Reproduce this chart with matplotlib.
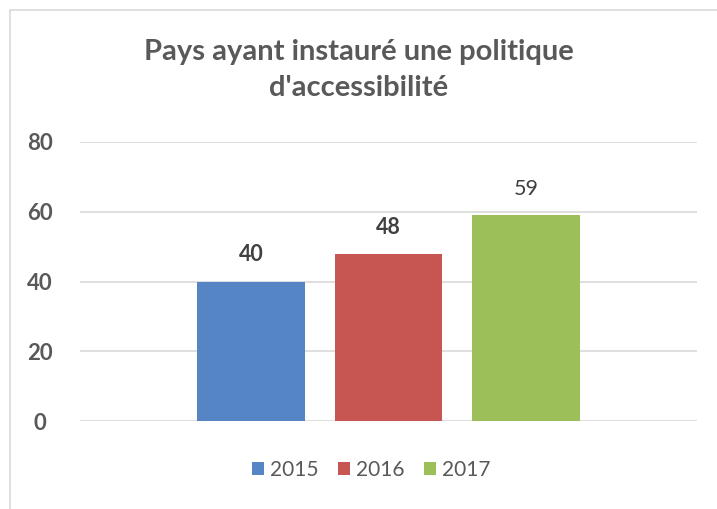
import matplotlib
matplotlib.use("Agg")
import matplotlib.pyplot as plt
from matplotlib.patches import Rectangle

years = ["2015", "2016", "2017"]
values = [40, 48, 59]
colors = ["#5585C5", "#C75653", "#9DBF5A"]
label_bold = [True, True, False]
yticks = [0, 20, 40, 60, 80]
title = "Pays ayant instauré une politique\nd'accessibilité"

plt.rcParams['font.family'] = ['Lato', 'DejaVu Sans']

W, H = 717, 509
fig = plt.figure(figsize=(W / 100, H / 100), dpi=100)
fig.patch.set_facecolor("white")

# chart border
fig.patches.append(Rectangle((10 / W, -0.1), 1.2, (1 - 10 / H) + 0.1,
                             transform=fig.transFigure, fill=False,
                             edgecolor="#D9D9D9", linewidth=1.2))

ax = fig.add_axes([80 / W, 1 - 421 / H, (697 - 80) / W, (421 - 142) / H])
positions = list(range(len(years)))
bars = ax.bar(positions, values, width=0.785, color=colors, label=years, zorder=3)

for b, v, bold in zip(bars, values, label_bold):
    ax.text(b.get_x() + b.get_width() / 2, v + 4.6, str(v), ha="center", va="bottom",
            fontsize=15.5, color="#404040", fontweight="bold" if bold else "normal")

ax.set_xlim(-1.244, 3.244)
ax.set_ylim(0, 80)
ax.set_yticks(yticks)
ax.set_yticklabels([str(t) for t in yticks], fontsize=16, fontweight="bold", color="#595959")
ax.set_xticks([])
ax.tick_params(axis="y", length=0, pad=29)
for lab in ax.get_yticklabels():
    lab.set_horizontalalignment("center")
ax.grid(axis="y", color="#D9D9D9", linewidth=1.2, zorder=0)
for s in ax.spines.values():
    s.set_visible(False)

fig.text(0.5, 1 - 70 / H, title, ha="center", va="center", fontsize=21,
         fontweight="bold", color="#595959", linespacing=1.5)

leg = fig.legend(handles=list(bars), labels=years, loc="center", ncol=3,
                 bbox_to_anchor=(371 / W, 1 - 470 / H), frameon=False,
                 fontsize=15, handlelength=0.6, handleheight=0.6,
                 handletextpad=0.25, columnspacing=0.95)
for t in leg.get_texts():
    t.set_color("#595959")

fig.savefig("out.png", dpi=100, facecolor="white")
